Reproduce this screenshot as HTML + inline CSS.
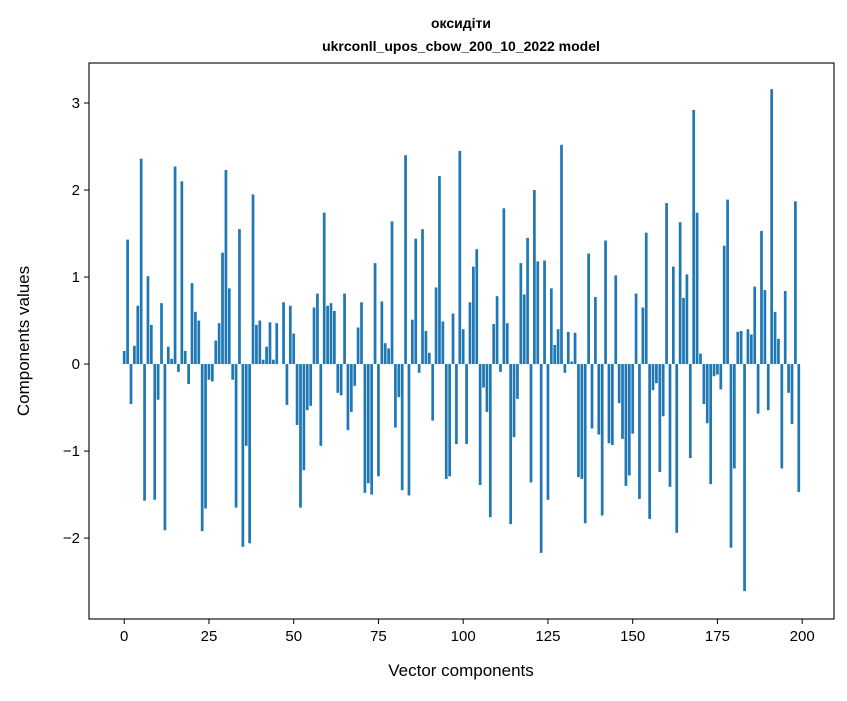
<!DOCTYPE html>
<html><head><meta charset="utf-8"><style>
body{margin:0;background:#fff;}
svg text{font-family:"Liberation Sans","DejaVu Sans",sans-serif;fill:#000;}
</style></head><body>
<svg id="chart" width="847" height="696" xmlns="http://www.w3.org/2000/svg">
<rect width="847" height="696" fill="#fff"/>
<text x="461" y="28" font-size="14" font-weight="bold" text-anchor="middle">оксидіти</text>
<text x="461" y="51" font-size="14" font-weight="bold" text-anchor="middle">ukrconll_upos_cbow_200_10_2022 model</text>
<g id="bars"></g>
<g id="axes"></g>
<text x="461" y="676" font-size="17" text-anchor="middle">Vector components</text>
<text transform="translate(29,341) rotate(-90)" font-size="17" text-anchor="middle">Components values</text>
</svg>
<script>
const values=[0.15,1.43,-0.46,0.21,0.67,2.36,-1.57,1.01,0.45,-1.56,-0.41,0.70,-1.91,0.20,0.06,2.27,-0.09,2.10,0.15,-0.23,
0.93,0.60,0.50,-1.92,-1.66,-0.18,-0.20,0.27,0.47,1.28,2.23,0.87,-0.18,-1.65,1.55,-2.10,-0.94,-2.06,1.95,0.45,
0.50,0.05,0.20,0.48,0.05,0.47,0.00,0.71,-0.47,0.67,0.35,-0.70,-1.65,-1.22,-0.53,-0.48,0.65,0.81,-0.94,1.74,
0.67,0.70,0.61,-0.33,-0.36,0.81,-0.76,-0.55,-0.25,0.42,0.71,-1.48,-1.37,-1.50,1.16,-1.29,0.72,0.24,0.18,1.64,
-0.73,-0.38,-1.45,2.40,-1.51,0.51,1.44,-0.10,1.55,0.38,0.13,-0.65,0.88,2.16,0.49,-1.32,-1.29,0.58,-0.92,2.45,
0.40,-0.92,0.71,1.12,1.32,-1.39,-0.27,-0.55,-1.76,0.46,0.78,-0.09,1.79,0.47,-1.84,-0.84,-0.40,1.16,0.80,1.45,
-1.36,2.00,1.18,-2.17,1.19,-1.56,0.87,0.22,0.40,2.52,-0.10,0.37,0.03,0.36,-1.30,-1.32,-1.83,1.27,-0.74,0.77,
-0.81,-1.74,1.42,-0.91,-0.93,1.02,-0.45,-0.86,-1.40,-1.28,-0.80,0.81,-1.55,0.65,1.51,-1.78,-0.30,-0.22,-1.24,-0.60,
1.85,-1.41,1.12,-1.94,1.63,0.76,1.03,-1.08,2.92,1.74,0.12,-0.46,-0.68,-1.38,-0.14,-0.12,-0.29,1.36,1.89,-2.11,
-1.20,0.37,0.38,-2.61,0.40,0.34,0.89,-0.57,1.53,0.85,-0.53,3.16,0.60,0.29,-1.20,0.84,-0.33,-0.69,1.87,-1.47];
const xTicks=[0,25,50,75,100,125,150,175,200];
const yTicks=[-2,-1,0,1,2,3];
const NS="http://www.w3.org/2000/svg";
const L=89,R=834,T=63,B=619;
const xMin=-10.39,xMax=209.39,yMin=-2.93,yMax=3.46;
const xs=v=>L+(v-xMin)/(xMax-xMin)*(R-L);
const ys=v=>T+(yMax-v)/(yMax-yMin)*(B-T);
const bars=document.getElementById('bars');
values.forEach((v,i)=>{
 const r=document.createElementNS(NS,'rect');
 const x0=xs(i-0.4),x1=xs(i+0.4);
 const y0=ys(Math.max(v,0)),y1=ys(Math.min(v,0));
 r.setAttribute('x',x0);r.setAttribute('width',x1-x0);
 r.setAttribute('y',y0);r.setAttribute('height',Math.max(y1-y0,0.01));
 r.setAttribute('fill','#1f77b4');
 
 
 bars.appendChild(r);
});
const ax=document.getElementById('axes');
const frame=document.createElementNS(NS,'rect');
frame.setAttribute('x',L);frame.setAttribute('y',T);frame.setAttribute('width',R-L);frame.setAttribute('height',B-T);
frame.setAttribute('fill','none');frame.setAttribute('stroke','#000');frame.setAttribute('stroke-width','1.1');


ax.appendChild(frame);
xTicks.forEach(t=>{
 const x=xs(t);
 const l=document.createElementNS(NS,'line');
 l.setAttribute('x1',x);l.setAttribute('x2',x);l.setAttribute('y1',B);l.setAttribute('y2',B+5);l.setAttribute('stroke','#000');
 
 
 ax.appendChild(l);
 const tx=document.createElementNS(NS,'text');
 tx.setAttribute('x',x);tx.setAttribute('y',B+22);tx.setAttribute('font-size','15');tx.setAttribute('text-anchor','middle');
 tx.textContent=t;
 
 
 ax.appendChild(tx);
});
yTicks.forEach(t=>{
 const y=ys(t);
 const l=document.createElementNS(NS,'line');
 l.setAttribute('x1',L-5);l.setAttribute('x2',L);l.setAttribute('y1',y);l.setAttribute('y2',y);l.setAttribute('stroke','#000');
 
 
 ax.appendChild(l);
 const tx=document.createElementNS(NS,'text');
 tx.setAttribute('x',L-9);tx.setAttribute('y',y+5);tx.setAttribute('font-size','15');tx.setAttribute('text-anchor','end');
 tx.textContent=t<0?'\u2212'+Math.abs(t):String(t);
 
 
 ax.appendChild(tx);
});
</script>
</body></html>
